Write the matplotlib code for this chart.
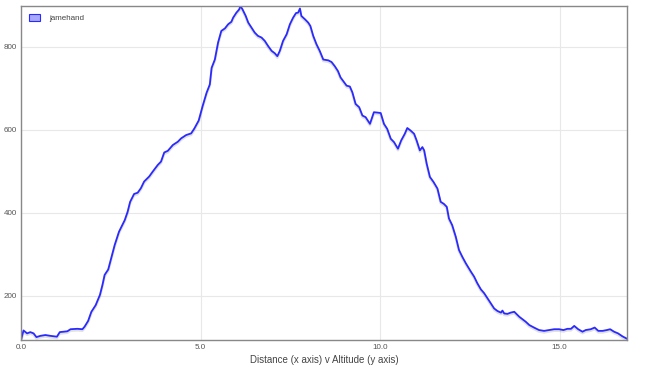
import matplotlib.pyplot as plt
import matplotlib.transforms as mtransforms
from matplotlib.patches import Patch

plt.rcParams['font.family'] = ['Liberation Sans', 'DejaVu Sans']

# distance (km) and altitude (m)
distance = [0, 0.07, 0.17, 0.26, 0.35, 0.43, 0.54, 0.68, 0.82, 1.0, 1.08, 1.29, 1.38, 1.57, 1.71,
            1.77, 1.87, 1.96, 2.08, 2.20, 2.27, 2.33, 2.43, 2.50, 2.61, 2.73, 2.89, 2.97, 3.04,
            3.15, 3.25, 3.34, 3.43, 3.57, 3.67, 3.81, 3.90, 3.99, 4.09, 4.23, 4.37, 4.46, 4.60,
            4.74, 4.83,
            4.95, 5.06, 5.17, 5.26, 5.31, 5.40, 5.49, 5.58, 5.68, 5.77, 5.86, 5.91, 6.00, 6.08,
            6.11, 6.17, 6.26, 6.33, 6.42, 6.51, 6.60, 6.70, 6.79, 6.88, 6.98, 7.07, 7.14, 7.21,
            7.30, 7.40, 7.49, 7.58, 7.66, 7.72, 7.77, 7.81, 7.91, 8.00, 8.06, 8.14, 8.23, 8.32,
            8.42, 8.56, 8.65, 8.74, 8.83,
            8.90, 9.00, 9.07, 9.16, 9.23, 9.32, 9.42, 9.51, 9.60, 9.72, 9.83, 9.94, 10.02, 10.11,
            10.20, 10.30, 10.39, 10.50, 10.59, 10.69, 10.76, 10.85, 10.95, 11.02, 11.11, 11.18,
            11.23, 11.30, 11.39, 11.49, 11.60, 11.69, 11.78, 11.86, 11.92, 12.01, 12.11, 12.20,
            12.29, 12.39, 12.53, 12.62, 12.71,
            12.81, 12.90, 12.99, 13.09, 13.18, 13.27, 13.37, 13.41, 13.46, 13.55, 13.64, 13.74,
            13.88, 13.97, 14.06, 14.16, 14.29, 14.43, 14.57, 14.71, 14.85, 14.99, 15.11, 15.22,
            15.32, 15.41, 15.52, 15.64, 15.73, 15.87, 15.98, 16.08, 16.20, 16.32, 16.41, 16.52,
            16.63, 16.75, 16.88]
altitude = [93, 116, 109, 112, 109, 100, 103, 105, 103, 101, 112, 114, 119, 120, 119,
            125, 139, 161, 177, 202, 226, 250, 263, 286, 322, 354, 382, 402, 426,
            445, 448, 459, 475, 487, 499, 515, 523, 545, 549, 563, 571, 579, 587,
            591, 603,
            622, 657, 689, 709, 749, 769, 810, 838, 844, 854, 860, 870, 882, 890,
            898, 890, 874, 858, 846, 834, 826, 822, 814, 802, 790, 784, 777, 790,
            814, 830, 854, 870, 881, 882, 892, 874, 866, 858, 850, 826, 806, 790,
            769, 767, 763, 753, 741,
            726, 714, 706, 704, 690, 662, 654, 634, 630, 614, 642, 641, 640, 614,
            602, 578, 570, 554, 574, 590, 604, 598, 590, 574, 550, 558,
            550, 518, 486, 474, 458, 426, 421, 414, 386, 370, 342, 310,
            294, 278, 258, 246, 230,
            215, 206, 194, 181, 169, 163, 159, 164, 157, 156, 159, 161,
            149, 143, 137, 129, 123, 117, 115, 117, 119, 119, 117, 120,
            120, 127, 119, 113, 117, 119, 123, 115, 115, 117, 119, 113,
            109, 102, 96]
x_ticks = [0.0, 5.0, 10.0, 15.0]
y_ticks = [200, 400, 600, 800]
series_name = "jamehand"

fig = plt.figure(figsize=(6.45, 3.67), dpi=100)
ax = fig.add_axes([21/645, 1 - 340/367, 606/645, 334/367])

# soft shadow under the line, like flot draws
shadow = mtransforms.offset_copy(ax.transData, fig=fig, x=0, y=-1.5, units='dots')
ax.plot(distance, altitude, color='black', alpha=0.12, linewidth=1.8, transform=shadow)
ax.plot(distance, altitude, color='#2a2aff', linewidth=1.3, solid_joinstyle='round')

ax.set_xlim(0, max(distance))
ax.set_ylim(min(altitude), max(altitude))
ax.set_xticks(x_ticks)
ax.set_xticklabels(["%.1f" % t for t in x_ticks])
ax.set_yticks(y_ticks)
ax.grid(True, color='#e8e8e8', linewidth=0.8)
ax.set_axisbelow(True)
ax.tick_params(length=0, labelsize=5.8, labelcolor='#555555', pad=3)
for s in ax.spines.values():
    s.set_color('#888888')
    s.set_linewidth(1)

ax.set_xlabel("Distance (x axis) v Altitude (y axis)", fontsize=7, color='#444444', labelpad=3)

handle = Patch(facecolor='#a8a8ff', edgecolor='#2a2aff', linewidth=0.8)
ax.legend([handle], [series_name], loc='upper left', frameon=False, fontsize=5.8,
          handlelength=1.4, handleheight=1.0, handletextpad=1.1, borderaxespad=0.6,
          labelcolor='#444444')

fig.savefig("out.png", dpi=100)
